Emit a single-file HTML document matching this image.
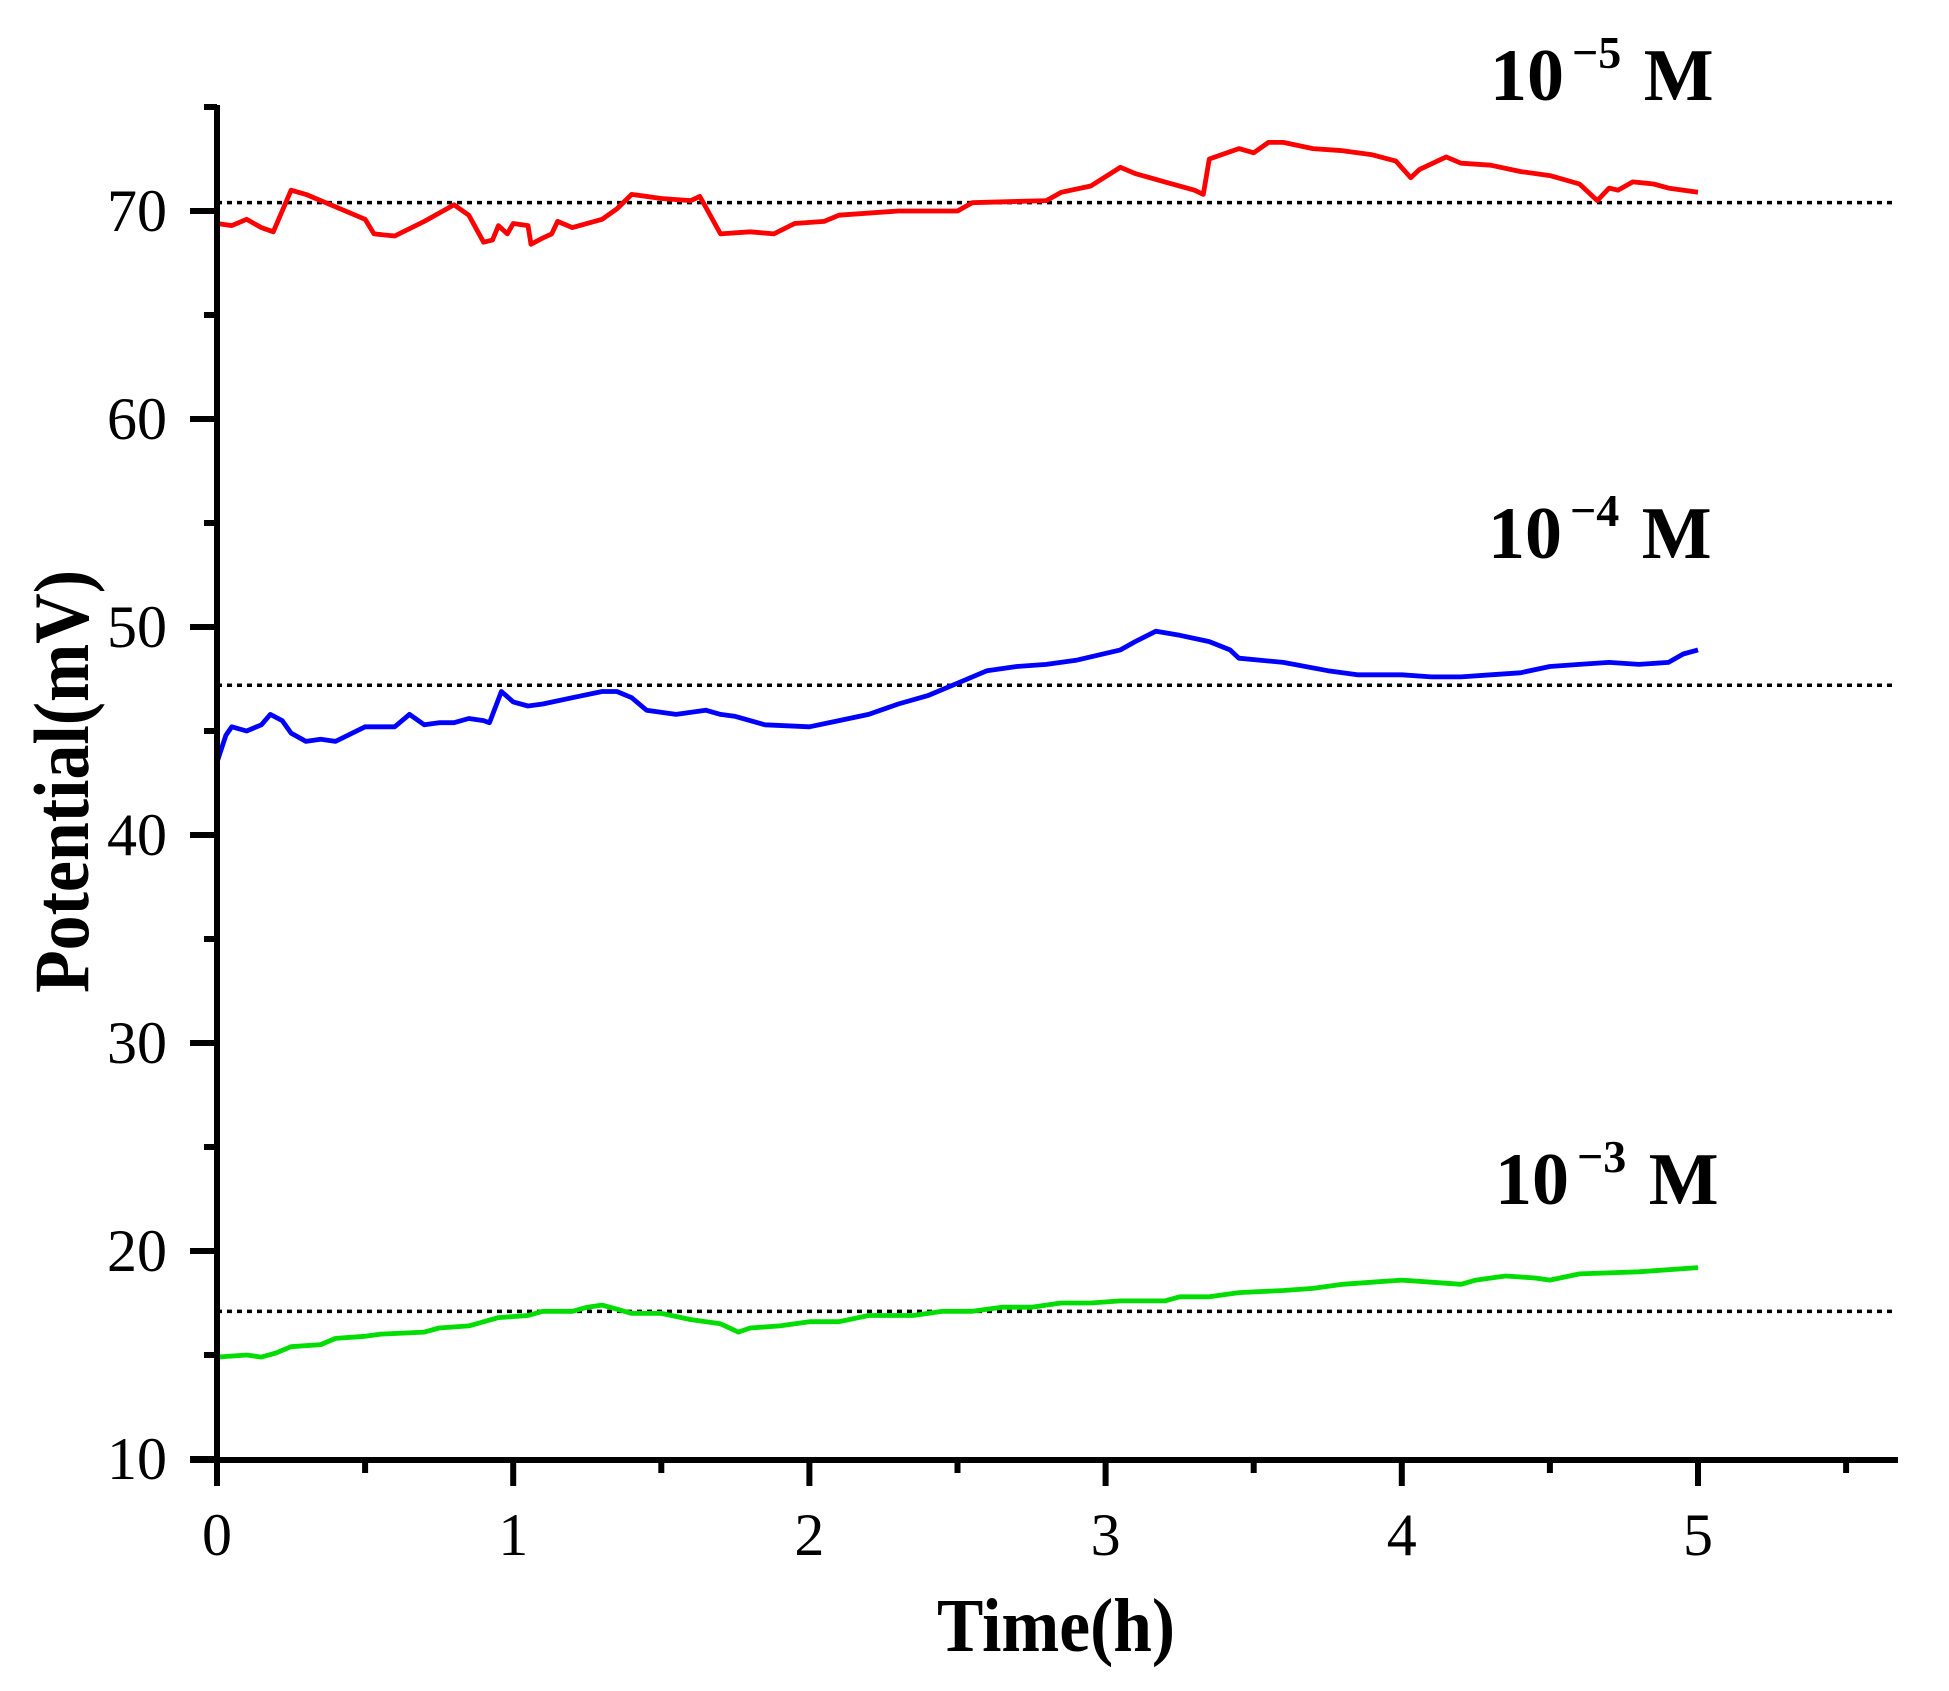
<!DOCTYPE html>
<html><head><meta charset="utf-8"><style>html,body{margin:0;padding:0;background:#fff}svg{display:block}</style></head>
<body>
<svg id="s" width="1949" height="1691" xmlns="http://www.w3.org/2000/svg" font-family="Liberation Serif, serif">
<g id="g"></g>
<text x="1490" y="100" font-size="74" font-weight="bold">10<tspan font-size="46" dx="8" dy="-32">−5</tspan><tspan dx="4" dy="32"> M</tspan></text>
<text x="1488" y="558" font-size="74" font-weight="bold">10<tspan font-size="46" dx="8" dy="-32">−4</tspan><tspan dx="4" dy="32"> M</tspan></text>
<text x="1495" y="1204" font-size="74" font-weight="bold">10<tspan font-size="46" dx="8" dy="-32">−3</tspan><tspan dx="4" dy="32"> M</tspan></text>
<text x="937" y="1651" font-size="76" font-weight="bold" textLength="238" lengthAdjust="spacingAndGlyphs">Time(h)</text>
<text transform="translate(88,993) rotate(-90)" font-size="78" font-weight="bold" textLength="423" lengthAdjust="spacingAndGlyphs">Potential(mV)</text>
</svg>
<script>
const g=document.getElementById('g');
const X=t=>217+296.2*t, Y=v=>211+(70-v)*20.8;
let h='';
const L=(x1,y1,x2,y2,w,extra)=>h+=`<line x1="${x1}" y1="${y1}" x2="${x2}" y2="${y2}" stroke="#000" stroke-width="${w}" ${extra||''}/>`;
[[70.4],[47.2],[17.1]].forEach(([v])=>L(217,Y(v),1897,Y(v),3.5,'stroke-dasharray="5 5"'));
function P(d,c){let s=d.map(p=>X(p[0]).toFixed(1)+','+Y(p[1]).toFixed(1)).join(' ');h+=`<polyline points="${s}" fill="none" stroke="${c}" stroke-width="4.8" stroke-linejoin="round"/>`;}
const red=[[0,69.4],[.05,69.3],[.1,69.6],[.15,69.2],[.19,69.0],[.25,71.0],[.3,70.8],[.4,70.2],[.5,69.6],[.53,68.9],[.6,68.8],[.7,69.5],[.8,70.3],[.85,69.8],[.9,68.5],[.93,68.6],[.95,69.3],[.98,68.9],[1,69.4],[1.05,69.3],[1.06,68.4],[1.1,68.7],[1.13,68.9],[1.15,69.5],[1.2,69.2],[1.3,69.6],[1.35,70.1],[1.4,70.8],[1.5,70.6],[1.6,70.5],[1.63,70.7],[1.7,68.9],[1.8,69.0],[1.88,68.9],[1.95,69.4],[2.05,69.5],[2.1,69.8],[2.3,70.0],[2.5,70.0],[2.55,70.4],[2.8,70.5],[2.85,70.9],[2.95,71.2],[3.05,72.1],[3.1,71.8],[3.2,71.4],[3.3,71.0],[3.33,70.8],[3.35,72.5],[3.45,73.0],[3.5,72.8],[3.55,73.3],[3.6,73.3],[3.7,73.0],[3.8,72.9],[3.9,72.7],[3.98,72.4],[4.03,71.6],[4.06,72.0],[4.15,72.6],[4.2,72.3],[4.3,72.2],[4.4,71.9],[4.5,71.7],[4.6,71.3],[4.66,70.5],[4.7,71.1],[4.73,71.0],[4.78,71.4],[4.85,71.3],[4.9,71.1],[5,70.9]];
const blue=[[0,43.5],[.03,44.8],[.05,45.2],[.1,45.0],[.15,45.3],[.18,45.8],[.22,45.5],[.25,44.9],[.3,44.5],[.35,44.6],[.4,44.5],[.5,45.2],[.55,45.2],[.6,45.2],[.65,45.8],[.7,45.3],[.75,45.4],[.8,45.4],[.85,45.6],[.9,45.5],[.92,45.4],[.96,46.9],[1,46.4],[1.05,46.2],[1.1,46.3],[1.2,46.6],[1.3,46.9],[1.35,46.9],[1.4,46.6],[1.45,46.0],[1.55,45.8],[1.65,46.0],[1.7,45.8],[1.75,45.7],[1.85,45.3],[2,45.2],[2.1,45.5],[2.2,45.8],[2.3,46.3],[2.4,46.7],[2.5,47.3],[2.6,47.9],[2.7,48.1],[2.8,48.2],[2.9,48.4],[3.05,48.9],[3.1,49.3],[3.17,49.8],[3.25,49.6],[3.35,49.3],[3.42,48.9],[3.45,48.5],[3.6,48.3],[3.75,47.9],[3.85,47.7],[4,47.7],[4.1,47.6],[4.2,47.6],[4.3,47.7],[4.4,47.8],[4.5,48.1],[4.6,48.2],[4.7,48.3],[4.8,48.2],[4.9,48.3],[4.95,48.7],[5,48.9]];
const green=[[0,14.9],[.1,15.0],[.15,14.9],[.2,15.1],[.25,15.4],[.35,15.5],[.4,15.8],[.5,15.9],[.55,16.0],[.7,16.1],[.75,16.3],[.85,16.4],[.95,16.8],[1.05,16.9],[1.1,17.1],[1.2,17.1],[1.25,17.3],[1.3,17.4],[1.35,17.2],[1.4,17.0],[1.5,17.0],[1.6,16.7],[1.7,16.5],[1.76,16.1],[1.8,16.3],[1.9,16.4],[2,16.6],[2.1,16.6],[2.2,16.9],[2.35,16.9],[2.45,17.1],[2.55,17.1],[2.65,17.3],[2.75,17.3],[2.85,17.5],[2.95,17.5],[3.05,17.6],[3.2,17.6],[3.25,17.8],[3.35,17.8],[3.45,18.0],[3.6,18.1],[3.7,18.2],[3.8,18.4],[3.9,18.5],[4,18.6],[4.1,18.5],[4.2,18.4],[4.25,18.6],[4.35,18.8],[4.45,18.7],[4.5,18.6],[4.6,18.9],[4.8,19.0],[5,19.2]];
P(red,'#ff0000');P(blue,'#0000ff');P(green,'#00dd00');
L(217,105,217,1485,6);L(190,1460,1898,1460,6);
for(let v=10;v<=75;v+=5){const y=Y(v);const maj=v%10==0;L(maj?190:204,y,217,y,6);
 if(maj)h+=`<text x="167" y="${y+20}" font-size="60" text-anchor="end">${v}</text>`;}
for(let t=0;t<=5.5;t+=0.5){const x=X(t);const maj=Number.isInteger(t);L(x,1460,x,maj?1486:1473,6);
 if(maj)h+=`<text x="${x}" y="1555" font-size="60" text-anchor="middle">${t}</text>`;}
g.innerHTML=h;
</script>
</body></html>
